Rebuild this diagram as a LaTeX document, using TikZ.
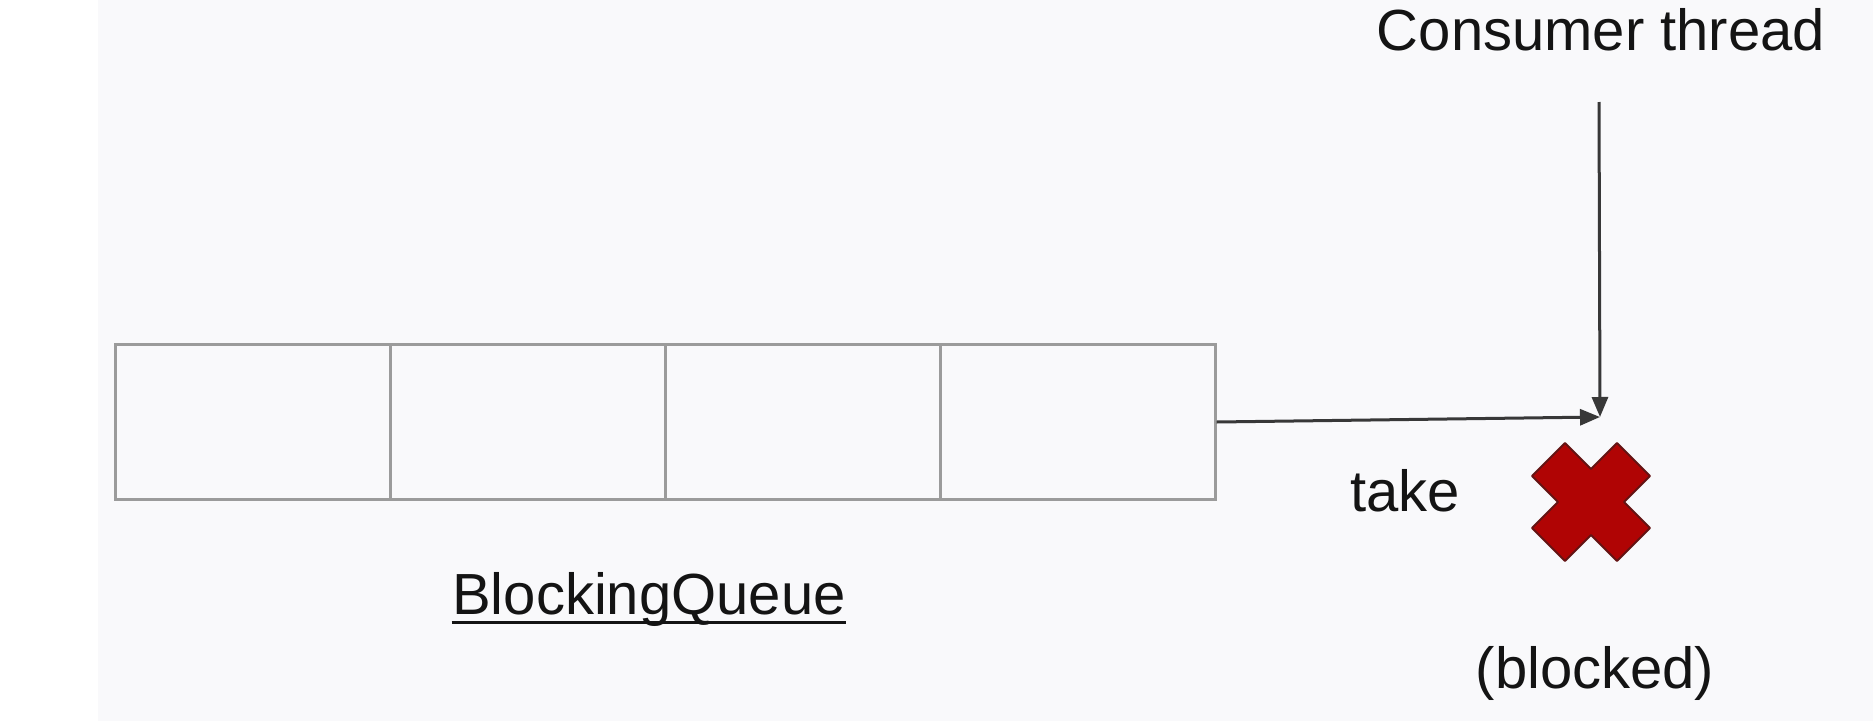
\documentclass[tikz,border=0pt]{standalone}
\usepackage{fontspec}
\setmainfont{Liberation Sans}
\usetikzlibrary{arrows.meta}

\definecolor{bgcol}{RGB}{249,249,251}
\definecolor{cellcol}{RGB}{155,155,155}
\definecolor{arrowcol}{RGB}{56,56,56}
\definecolor{crossfill}{RGB}{176,4,4}
\definecolor{crossline}{RGB}{100,20,20}
\definecolor{textcol}{RGB}{20,20,20}

\begin{document}
\begin{tikzpicture}[x=0.01cm, y=-0.01cm,
    cell/.style={draw=cellcol, line width=0.03cm, minimum width=2.7475cm, minimum height=1.54cm, inner sep=0pt},
    txt/.style={text=textcol, inner sep=0pt, anchor=base, font=\fontsize{16.5}{20}\selectfont},
    link/.style={draw=arrowcol, line width=0.03cm, -{Triangle[length=0.2cm, width=0.16cm]}}]
    % background
    \fill[white] (0,0) rectangle (98,721);
    \fill[bgcol] (98,0) rectangle (1873,721);
    \useasboundingbox (0,0) rectangle (1873,721);

    % queue cells
    \foreach \i in {1,...,4}
        \node[cell] (c\i) at (116+137.375+274.75*\i-274.75, 422) {};
    \node[txt] (queue) at (649,614) {BlockingQueue};
    \draw[textcol, line width=0.03cm] ([yshift=-0.08cm]queue.base west) -- ([yshift=-0.08cm]queue.base east);

    % consumer side
    \node[txt] (consumer) at (1601,50) {Consumer thread};
    \coordinate (top) at (1599,102);
    \coordinate (meet) at (1600,417);
    \draw[link] (top) -- (meet);
    \draw[link] (c4.east) -- (meet);
    \node[txt] (take) at (1405,511) {take};
    \node[txt] (blocked) at (1595,688) {(blocked)};

    % red cross
    \draw[fill=crossfill, draw=crossline, line width=0.02cm, line join=round, shift={(1591,502)}]
        (-26,-59) -- (0,-33) -- (26,-59) -- (59,-26) -- (33,0) -- (59,26) -- (26,59)
        -- (0,33) -- (-26,59) -- (-59,26) -- (-33,0) -- (-59,-26) -- cycle;
\end{tikzpicture}
\end{document}
